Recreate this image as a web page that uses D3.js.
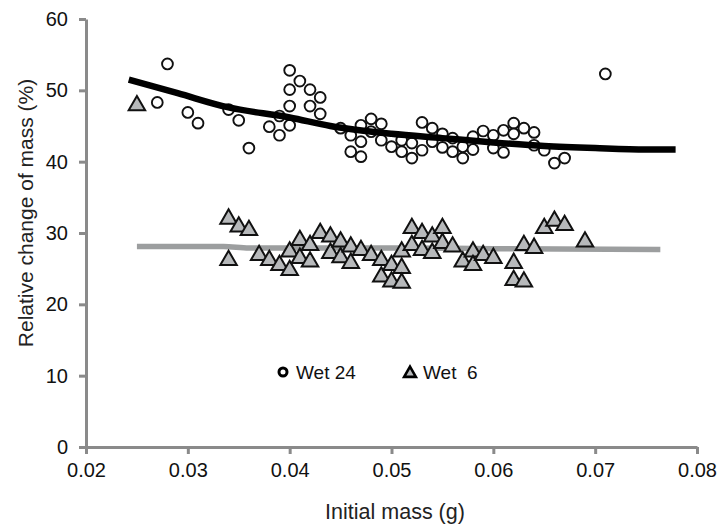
<!DOCTYPE html>
<html><head><meta charset="utf-8">
<script src="https://cdn.jsdelivr.net/npm/d3@7"></script>
<style>body{margin:0;background:#fff}svg{display:block}</style>
</head><body>
<svg id="c" width="718" height="528"></svg>
<script>
// Wet 24 (circles)
const wet24X = [0.027,0.028,0.030,0.031,0.034,0.035,0.036,0.038,0.039,0.039,0.040,0.040,0.040,0.040,0.041,0.042,0.042,0.043,0.043,
  0.045,0.046,0.046,0.047,0.047,0.047,0.048,0.048,0.049,0.049,0.050,0.051,0.051,0.052,0.052,0.053,0.053,0.054,0.054,0.055,0.055,
  0.056,0.056,0.057,0.057,0.058,0.058,0.059,0.060,0.060,0.061,0.061,0.062,0.062,0.063,0.064,0.064,0.065,0.066,0.067,0.071];
const wet24Y = [48.3,53.7,46.9,45.4,47.3,45.8,41.9,44.9,46.4,43.7,52.8,50.1,47.8,45.1,51.3,50.1,47.8,49.0,46.7,
  44.7,43.7,41.4,45.1,42.8,40.7,46.0,44.2,45.3,43.0,42.1,43.0,41.4,42.6,40.5,45.5,41.6,44.7,42.8,43.9,42.0,
  43.3,41.4,42.1,40.5,43.5,41.7,44.3,43.7,41.9,44.4,41.3,45.4,43.9,44.7,44.1,42.3,41.6,39.8,40.5,52.3];
// Wet 6 (triangles)
const wet6X = [0.025,0.034,0.035,0.036,0.034,0.037,0.038,0.039,0.040,0.040,0.041,0.041,0.042,0.042,0.043,0.044,0.044,0.045,0.045,
  0.046,0.046,0.047,0.048,0.049,0.049,0.050,0.050,0.051,0.051,0.051,0.052,0.052,0.053,0.053,0.054,0.054,0.055,0.055,0.056,0.057,
  0.058,0.058,0.059,0.060,0.062,0.062,0.063,0.063,0.064,0.065,0.066,0.067,0.069];
const wet6Y = [48.2,32.3,31.2,30.7,26.5,27.2,26.5,25.8,25.1,27.7,29.3,26.8,28.6,26.3,30.3,29.8,27.5,29.1,26.9,
  28.4,26.1,27.9,27.2,26.5,24.2,25.8,23.5,27.7,25.4,23.3,31.0,28.6,30.3,27.9,29.8,27.5,31.0,28.9,28.4,26.3,
  27.7,25.8,27.2,26.8,26.1,23.7,28.6,23.5,28.2,31.0,32.0,31.4,29.1];
// fitted curves
const fit24X = [0.0242,0.029,0.034,0.040,0.044,0.050,0.055,0.060,0.065,0.070,0.075,0.0779];
const fit24Y = [51.5,49.6,47.6,46.2,45.0,43.9,43.3,42.7,42.2,41.9,41.7,41.7];
const fit6X = [0.025,0.0335,0.036,0.045,0.050,0.060,0.0764];
const fit6Y = [28.1,28.1,27.9,27.9,27.9,27.8,27.7];
const xTicks = [0.02,0.03,0.04,0.05,0.06,0.07,0.08];
const yTicks = [0,10,20,30,40,50,60];
const legendLabels = ["Wet 24","Wet 6"];

const svg = d3.select("#c");
const x = d3.scaleLinear().domain([0.02,0.08]).range([86,697]);
const y = d3.scaleLinear().domain([0,60]).range([447,19]);
const axisCol = "#8a8a8a";
const tickFont = "'Liberation Sans', Arial, sans-serif";

const gx = svg.append("g").attr("transform","translate(0,447)")
  .call(d3.axisBottom(x).tickValues(xTicks).tickFormat(d3.format(".2f")).tickSize(7).tickSizeOuter(0).tickPadding(9));
const gy = svg.append("g").attr("transform","translate(86,0)")
  .call(d3.axisLeft(y).tickValues(yTicks).tickFormat(d3.format("d")).tickSize(7).tickSizeOuter(0).tickPadding(11));
[gx,gy].forEach(g=>{
  g.select(".domain").attr("stroke",axisCol).attr("stroke-width",3);
  g.selectAll(".tick line").attr("stroke",axisCol).attr("stroke-width",3);
  g.selectAll(".tick text").attr("fill","#111").style("font-family",tickFont).style("font-size","20px");
});

svg.append("text").attr("x",395).attr("y",519).attr("text-anchor","middle")
  .style("font-family",tickFont).style("font-size","21.5px").attr("fill","#222").text("Initial mass (g)");
svg.append("text").attr("transform","translate(33,213) rotate(-90)").attr("text-anchor","middle")
  .style("font-family",tickFont).style("font-size","21px").attr("fill","#222").text("Relative change of mass (%)");

const line = d3.line().x(d=>x(d[0])).y(d=>y(d[1])).curve(d3.curveMonotoneX);
svg.append("path").datum(fit6X.map((v,i)=>[v,fit6Y[i]])).attr("d",line)
  .attr("fill","none").attr("stroke","#9c9e9f").attr("stroke-width",5.5);

const tri = d3.symbol(d3.symbolTriangle, 118);
svg.append("g").selectAll("path").data(wet6X.map((v,i)=>[v,wet6Y[i]])).join("path")
  .attr("d",tri).attr("transform",d=>`translate(${x(d[0])},${y(d[1])+2.3})`)
  .attr("fill","#b7b9bb").attr("stroke","#111").attr("stroke-width",2);

svg.append("g").selectAll("circle").data(wet24X.map((v,i)=>[v,wet24Y[i]])).join("circle")
  .attr("cx",d=>x(d[0])).attr("cy",d=>y(d[1])).attr("r",5.4)
  .attr("fill","#fff").attr("stroke","#111").attr("stroke-width",1.9);

svg.append("path").datum(fit24X.map((v,i)=>[v,fit24Y[i]])).attr("d",line)
  .attr("fill","none").attr("stroke","#000").attr("stroke-width",6.5);

// legend
const lg = svg.append("g");
lg.append("circle").attr("cx",283).attr("cy",372).attr("r",4).attr("fill","#fff").attr("stroke","#000").attr("stroke-width",3);
lg.append("text").attr("x",296).attr("y",379).style("font-family",tickFont).style("font-size","19px").attr("fill","#111").text(legendLabels[0]);
lg.append("path").attr("d",d3.symbol(d3.symbolTriangle,60)).attr("transform","translate(410,373.5)")
  .attr("fill","#b7b9bb").attr("stroke","#000").attr("stroke-width",2.6);
lg.append("text").attr("x",423).attr("y",379).style("font-family",tickFont).style("font-size","19px").attr("fill","#111").style("white-space","pre").text(legendLabels[1].replace(" ","  "));
</script>
</body></html>
